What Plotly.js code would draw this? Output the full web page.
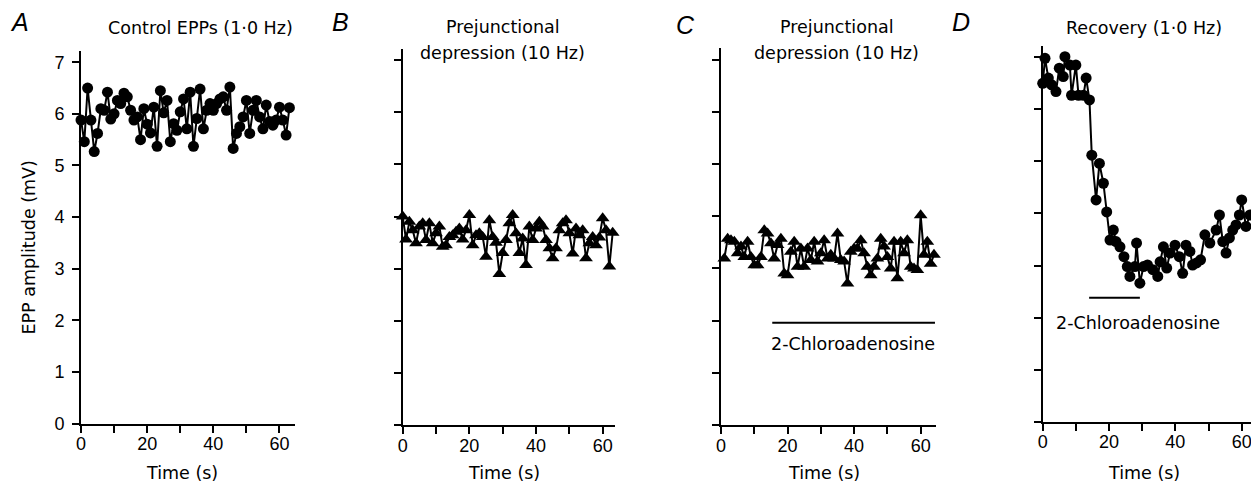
<!DOCTYPE html>
<html>
<head>
<meta charset="utf-8">
<script src="https://cdn.plot.ly/plotly-3.0.1.min.js"></script>
<style>html,body{margin:0;padding:0;overflow:hidden;background:#fff}#chart{width:1260px;height:485px}</style>
</head>
<body>
<div id="chart"></div>
<script>
// ---- data ----
const panelLetters = ["A", "B", "C", "D"];
const titleA = "Control EPPs (1·0 Hz)";
const titleB = ["Prejunctional", "depression (10 Hz)"];
const titleC = ["Prejunctional", "depression (10 Hz)"];
const titleD = "Recovery (1·0 Hz)";
const xTitle = "Time (s)";
const yTitle = "EPP amplitude (mV)";
const drugLabel = "2-Chloroadenosine";

const xTickVals = [0, 10, 20, 30, 40, 50, 60];
const xTickText = ["0", "", "20", "", "40", "", "60"];
const yTickVals = [0, 1, 2, 3, 4, 5, 6, 7];
const yTickText = ["0", "1", "2", "3", "4", "5", "6", "7"];

// Panel A: control EPPs, 1 Hz (one point per second from t = 0)
const eppA = [5.88, 5.46, 6.50, 5.88, 5.27, 5.62, 6.10, 6.07, 6.42, 5.90,
  6.00, 6.26, 6.20, 6.40, 6.33, 6.07, 5.88, 5.94, 5.50, 6.10,
  5.80, 5.63, 6.13, 5.37, 6.45, 6.02, 6.26, 5.46, 5.81, 5.68,
  6.04, 6.29, 5.71, 6.42, 5.37, 5.91, 6.48, 5.71, 6.07, 6.20,
  6.07, 6.20, 6.29, 6.33, 6.07, 6.52, 5.33, 5.62, 5.75, 5.94,
  6.26, 5.62, 6.07, 6.26, 5.94, 5.71, 6.17, 5.85, 5.78, 5.88,
  6.13, 5.88, 5.59, 6.12];

// Panel B: prejunctional depression, 10 Hz (one point per second from t = 0)
const eppB = [4.00, 3.56, 3.90, 3.74, 3.49, 3.81, 3.87, 3.55, 3.87, 3.49,
  3.68, 3.81, 3.42, 3.45, 3.61, 3.64, 3.71, 3.77, 3.56, 3.74,
  4.03, 3.45, 3.64, 3.68, 3.61, 3.23, 3.93, 3.61, 3.50, 2.90,
  3.30, 3.55, 3.87, 4.03, 3.68, 3.30, 3.58, 3.07, 3.81, 3.55,
  3.77, 3.90, 3.81, 3.55, 3.39, 3.20, 3.39, 3.74, 3.87, 3.93,
  3.68, 3.29, 3.77, 3.64, 3.74, 3.20, 3.49, 3.61, 3.45, 3.60,
  3.97, 3.74, 3.04, 3.69];

// Panel C: prejunctional depression + 2-chloroadenosine (one point per second from t = 1)
const eppC = [3.19, 3.57, 3.54, 3.51, 3.29, 3.42, 3.22, 3.51, 3.22, 3.06,
  3.06, 3.22, 3.73, 3.67, 3.48, 3.19, 3.45, 3.57, 2.90, 2.87,
  3.32, 3.51, 3.03, 3.38, 3.03, 3.38, 3.16, 3.51, 3.13, 3.29,
  3.54, 3.19, 3.26, 3.19, 3.67, 3.16, 3.13, 2.71, 3.32, 3.38,
  3.38, 3.54, 3.29, 3.03, 2.87, 3.03, 3.19, 3.57, 3.42, 3.22,
  3.00, 3.51, 2.81, 3.51, 3.29, 3.54, 3.03, 3.00, 2.97, 4.02,
  3.26, 3.51, 3.09, 3.26];

// Panel D: recovery, 1 Hz
const timeD = [0, 0.7, 1.7, 2.7, 4.0, 5.0, 6.2, 6.7, 8.2, 8.7,
  10.0, 10.8, 12.3, 13.1, 14.1, 14.8, 16.1, 17.1, 18.3, 19.3,
  20.3, 21.3, 22.1, 23.3, 24.5, 25.5, 26.3, 27.8, 28.3, 29.3,
  30.4, 31.6, 33.2, 34.7, 35.4, 36.4, 37.4, 38.4, 39.9, 41.2,
  42.2, 43.2, 44.4, 45.2, 46.4, 47.6, 48.9, 50.4, 52.3, 53.3,
  54.3, 55.3, 56.3, 57.3, 58.3, 59.3, 60.0, 61.3, 62.5];
const eppD = [6.50, 6.98, 6.60, 6.47, 6.34, 6.79, 6.63, 7.01, 6.85, 6.27,
  6.85, 6.27, 6.27, 6.60, 6.18, 5.12, 4.26, 4.96, 4.58, 4.03,
  3.49, 3.68, 3.46, 3.36, 3.17, 2.98, 2.79, 2.98, 3.43, 2.66,
  2.98, 3.01, 2.92, 2.79, 3.07, 3.36, 2.95, 3.24, 3.39, 3.17,
  2.85, 3.39, 3.27, 3.01, 3.05, 3.11, 3.59, 3.43, 3.68, 3.97,
  3.46, 3.24, 3.53, 3.68, 3.78, 3.97, 4.26, 3.75, 3.97];

// Drug application bars (start, end in s; level in mV)
const drugC = {t: [15.4, 64.3], level: 1.96};
const drugD = {t: [14.0, 29.3], level: 2.38};

// ---- build ----
const W = 1260, H = 485;
const px = x => x / W;
const py = y => 1 - y / H;
const timesFrom = (arr, start) => arr.map((_, i) => i + start);

const tickFont = {family: "Liberation Sans, Arial, sans-serif", size: 18, color: "#000"};
const textFont = {family: "DejaVu Sans, sans-serif", size: 17.5, color: "#000"};
const letterFont = {family: "Liberation Sans, Arial, sans-serif", size: 25, color: "#000"};

const lineStyle = {color: "#000", width: 2};
function series(x, y, sym, xa, ya, size) {
  return {x: x, y: y, xaxis: xa, yaxis: ya, type: "scatter", mode: "lines+markers",
    line: lineStyle, marker: {symbol: sym, size: size, color: "#000"},
    cliponaxis: false, hoverinfo: "skip", showlegend: false};
}
function bar(d, xa, ya) {
  return {x: d.t, y: [d.level, d.level], xaxis: xa, yaxis: ya, type: "scatter", mode: "lines",
    line: {color: "#000", width: 2}, cliponaxis: false, hoverinfo: "skip", showlegend: false};
}

const data = [
  series(timesFrom(eppA, 0), eppA, "circle", "x", "y", 11),
  series(timesFrom(eppB, 0), eppB, "triangle-up", "x2", "y2", 12),
  series(timesFrom(eppC, 1), eppC, "triangle-up", "x3", "y3", 12),
  series(timeD, eppD, "circle", "x4", "y4", 11),
  bar(drugC, "x3", "y3"),
  bar(drugD, "x4", "y4")
];

function xax(d0, d1, r1, anchor) {
  return {domain: [px(d0), px(d1)], range: [0, r1], anchor: anchor,
    showline: true, linecolor: "#000", linewidth: 2, mirror: false,
    ticks: "outside", ticklen: 7, tickwidth: 2, tickcolor: "#000",
    tickvals: xTickVals, ticktext: xTickText, tickfont: tickFont,
    ticklabelstandoff: -4,
    showgrid: false, zeroline: false, fixedrange: true};
}
function yax(top, bottom, anchor, labels) {
  return {domain: [py(bottom), py(top)], range: [0, 7.22], anchor: anchor,
    showline: true, linecolor: "#000", linewidth: 2,
    ticks: "outside", ticklen: 7, tickwidth: 2, tickcolor: "#000",
    tickvals: yTickVals, ticktext: yTickText, showticklabels: labels, tickfont: tickFont,
    ticklabelstandoff: 4,
    showgrid: false, zeroline: false, fixedrange: true};
}

function ann(text, x, y, font, extra) {
  return Object.assign({text: text, x: px(x), y: py(y), xref: "paper", yref: "paper",
    xanchor: "center", yanchor: "middle", showarrow: false, font: font}, extra || {});
}

const annotations = [
  ann("<i>" + panelLetters[0] + "</i>", 19, 22, letterFont),
  ann("<i>" + panelLetters[1] + "</i>", 340, 22, letterFont),
  ann("<i>" + panelLetters[2] + "</i>", 686, 25, letterFont),
  ann("<i>" + panelLetters[3] + "</i>", 961, 22, letterFont),
  ann(titleA, 200.5, 28, textFont),
  ann(titleB[0], 502.7, 27, textFont),
  ann(titleB[1], 502.7, 53, textFont),
  ann(titleC[0], 836.7, 27, textFont),
  ann(titleC[1], 836.7, 53, textFont),
  ann(titleD, 1143.7, 28, textFont),
  ann(xTitle, 181.7, 473, textFont),
  ann(xTitle, 504, 473, textFont),
  ann(xTitle, 824, 473, textFont),
  ann(xTitle, 1144, 473, textFont),
  ann(yTitle, 29, 247.5, textFont, {textangle: -90}),
  ann(drugLabel, 852.7, 344, textFont),
  ann(drugLabel, 1138.3, 322.5, textFont)
];

const layout = {
  width: W, height: H, autosize: false,
  margin: {l: 0, r: 0, t: 0, b: 0, pad: 0},
  paper_bgcolor: "#fff", plot_bgcolor: "rgba(0,0,0,0)",
  showlegend: false,
  xaxis: xax(81, 294.7, 64.6, "y"),
  xaxis2: xax(402.7, 615, 63.7, "y2"),
  xaxis3: xax(721, 936.3, 64.7, "y3"),
  xaxis4: xax(1042.7, 1256.6, 64.5, "y4"),
  yaxis: yax(50.9, 423.5, "x", true),
  yaxis2: yax(48.8, 425, "x2", false),
  yaxis3: yax(48.1, 425, "x3", false),
  yaxis4: yax(45.8, 421.7, "x4", false),
  annotations: annotations
};

Plotly.newPlot("chart", data, layout, {displayModeBar: false, staticPlot: true});
</script>
</body>
</html>
